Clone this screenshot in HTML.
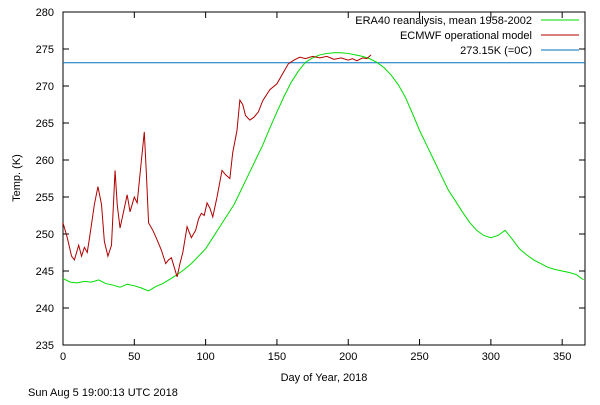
<!DOCTYPE html>
<html><head><meta charset="utf-8"><style>
body{margin:0;background:#fff;width:600px;height:400px;overflow:hidden}
svg{font-family:"Liberation Sans",sans-serif;font-size:11px}
</style></head><body>
<svg id="chart" width="600" height="400">
<rect x="63" y="12" width="522" height="333" fill="none" stroke="#000" stroke-width="1"/>
<g id="axes"></g>
<g id="series"></g>
<text x="20" y="178" transform="rotate(-90 20 178)" text-anchor="middle">Temp. (K)</text>
<text x="324" y="381" text-anchor="middle">Day of Year, 2018</text>
<text x="28" y="396">Sun Aug  5 19:00:13 UTC 2018</text>
<g>
<text x="532" y="24" text-anchor="end">ERA40 reanalysis, mean 1958-2002</text>
<line x1="541" y1="20" x2="579" y2="20" stroke="#00dd00"/>
<text x="532" y="39" text-anchor="end">ECMWF operational model</text>
<line x1="541" y1="35" x2="579" y2="35" stroke="#b00000"/>
<text x="532" y="54" text-anchor="end">273.15K (=0C)</text>
<line x1="541" y1="50" x2="579" y2="50" stroke="#0070c0"/>
</g>
</svg>
<script>
const xTicks=[0,50,100,150,200,250,300,350];
const yTicks=[235,240,245,250,255,260,265,270,275,280];
const freezing=273.15;
const eraDays=[0,5,10,15,20,25,30,35,40,45,50,55,60,65,70,75,80,85,90,95,100,105,110,115,120,125,130,135,140,145,150,155,160,165,170,175,180,185,190,195,200,205,210,215,220,225,230,235,240,245,250,255,260,265,270,275,280,285,290,295,300,305,310,315,320,325,330,335,340,345,350,355,360,365];
const eraVals=[244,243.5,243.4,243.6,243.5,243.8,243.3,243.1,242.8,243.2,243,242.7,242.3,242.9,243.3,243.9,244.5,245.2,246,247,248,249.5,251,252.5,254,256,258,260,262,264.3,266.5,268.6,270.5,272,273.2,273.8,274.2,274.4,274.5,274.5,274.4,274.2,274,273.7,273.2,272.5,271.5,270.2,268.5,266.3,264,262,260,258,256,254.5,253,251.6,250.5,249.8,249.5,249.8,250.5,249.3,248,247.2,246.5,246,245.5,245.2,245,244.8,244.5,243.8];
const ecDays=[0,3,6,8,11,13,15,17,19,22,24.5,27,29,31.5,34,36.5,38,40,43,45,47,50,52,55,57,58.5,60,63,66,69,72,74,76,78,80,82,84,87,90,93,95,97,99,101,103,105,108,111.5,114,117,119,122,124,126,128,131,134,137,140,145,150,155,158,162,166,170,175,180,185,190,195,200,203,206,210,213,216];
const ecVals=[251.5,249.5,247,246.5,248.5,247,248.2,247.5,250,254,256.4,254,249,247,248.5,258.6,254,250.8,253.5,255.3,253,255,254.2,260,263.8,258,251.5,250.5,249.2,247.8,246,246.5,246.8,245.5,244.2,246,247.5,251,249.5,250.5,252,252.8,252.5,254.2,253.5,252.3,255,258.6,258,257.5,261,264,268.1,267.5,266,265.4,265.8,266.5,268,269.5,270.3,272,273,273.5,273.9,273.7,274,273.8,274,273.6,273.8,273.5,273.7,273.4,273.8,273.7,274.2];
const X=d=>63+d*522/366;
const Y=t=>345-(t-235)*333/45;
const NS="http://www.w3.org/2000/svg";
const axes=document.getElementById('axes'),series=document.getElementById('series');
function mk(tag,attrs,parent){const e=document.createElementNS(NS,tag);for(const k in attrs)e.setAttribute(k,attrs[k]);parent.appendChild(e);return e;}
xTicks.forEach(v=>{
 const l=mk('path',{d:`M${X(v)},345v-6M${X(v)},12v6`,stroke:'#000'},axes);
 
 
 const t=mk('text',{x:X(v),y:360,'text-anchor':'middle'},axes);t.textContent=v;
 
 
});
yTicks.forEach(v=>{
 const l=mk('path',{d:`M63,${Y(v)}h6M585,${Y(v)}h-6`,stroke:'#000'},axes);
 
 
 const t=mk('text',{x:54,y:Y(v)+4,'text-anchor':'end'},axes);t.textContent=v;
 
 
});
const fl=mk('line',{x1:63,x2:585,y1:Y(freezing),y2:Y(freezing),stroke:'#0070c0'},series);


const g=mk('polyline',{points:eraDays.map((d,i)=>X(d)+','+Y(eraVals[i])).join(' '),fill:'none',stroke:'#00dd00'},series);


const r=mk('polyline',{points:ecDays.map((d,i)=>X(d)+','+Y(ecVals[i])).join(' '),fill:'none',stroke:'#b00000'},series);


</script>
</body></html>
